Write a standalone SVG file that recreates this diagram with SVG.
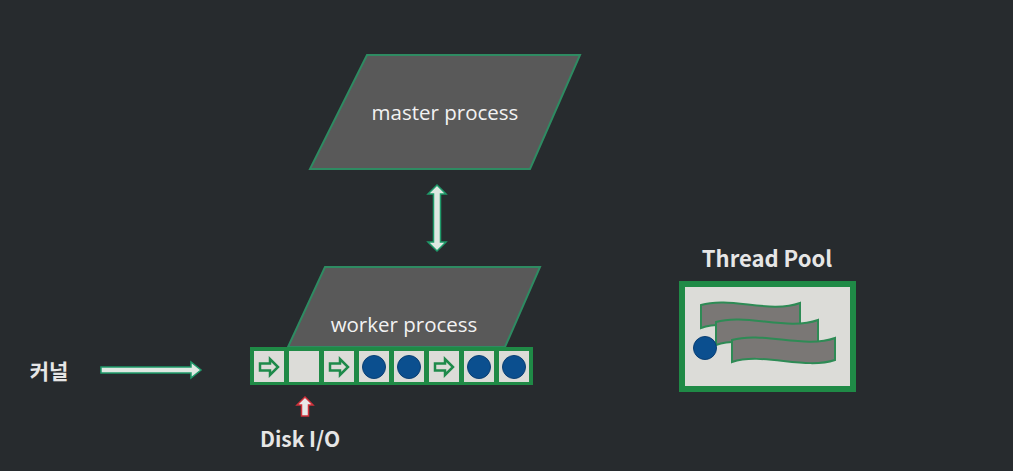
<svg xmlns="http://www.w3.org/2000/svg" width="1013" height="471" viewBox="0 0 1013 471">
<defs>
<style>
.bg{fill:#272b2e}
.para{fill:#595959;stroke:#2e8b62;stroke-width:2}
.lbl{font-family:"Open Sans","Noto Sans",sans-serif;font-size:20.5px;fill:#f2f2f2;text-anchor:middle}
.bold{font-family:"Noto Sans CJK KR","Noto Sans",sans-serif;font-weight:bold;fill:#e6e6e6;text-anchor:middle}
.cell{fill:#dcdcd8}
.dot{fill:#0b4f8f;stroke:#0a3f73;stroke-width:1}
.qarrow{fill:none;stroke:#1e8a4a;stroke-width:2.5;stroke-linejoin:miter}
.band{fill:#7a7775;stroke:#2e8b55;stroke-width:2}
.conn{fill:#dfe8e2;stroke:#1f9a6a;stroke-width:1.5}
</style>
<symbol id="qa" viewBox="0 0 30 32">
<path class="qarrow" d="M6 12.5 H16 V8 L24 16 L16 24 V19.5 H6 Z"/>
</symbol>
</defs>
<rect class="bg" x="0" y="0" width="1013" height="471"/>

<g id="master">
<polygon class="para" points="367,55 580,55 530,169 310,169"/>
<text class="lbl" x="445" y="120">master process</text>
</g>

<g id="worker">
<polygon class="para" points="325,267 540,267 505,347 288,347"/>
<text class="lbl" x="404" y="332">worker process</text>
</g>

<g id="queue">
<rect x="250" y="347" width="283" height="38" fill="#1f8a46"/>
<rect class="cell" x="254" y="351" width="30" height="31"/>
<rect class="cell" x="289" y="351" width="30" height="31"/>
<rect class="cell" x="324" y="351" width="30" height="31"/>
<rect class="cell" x="359" y="351" width="30" height="31"/>
<rect class="cell" x="394" y="351" width="30" height="31"/>
<rect class="cell" x="429" y="351" width="30" height="31"/>
<rect class="cell" x="464" y="351" width="30" height="31"/>
<rect class="cell" x="499" y="351" width="30" height="31"/>
<use href="#qa" x="254" y="351" width="30" height="32"/>
<use href="#qa" x="324" y="351" width="30" height="32"/>
<use href="#qa" x="429" y="351" width="30" height="32"/>
<circle class="dot" cx="374" cy="367" r="11.5"/>
<circle class="dot" cx="409" cy="367" r="11.5"/>
<circle class="dot" cx="479" cy="367" r="11.5"/>
<circle class="dot" cx="514" cy="367" r="11.5"/>
</g>

<g id="kernel">
<text class="bold" x="49" y="379" font-size="21">커널</text>
</g>

<g id="disk">
<text class="bold" x="300" y="447" font-size="21">Disk I/O</text>
</g>

<g id="threadpool">
<text class="bold" x="767" y="267" font-size="22">Thread Pool</text>
<rect x="682" y="284" width="171" height="105" fill="#dcdcd8" stroke="#1f8a46" stroke-width="6"/>
<path class="band" d="M701,305 C730,296 770,314 800,303 L800,326 C770,336 730,318 701,328 Z"/>
<path class="band" d="M716,322 C745,313 788,331 818,320 L818,343 C788,353 745,335 716,345 Z"/>
<path class="band" d="M732,340 C762,331 805,349 835,338 L835,360 C805,370 762,352 732,362 Z"/>
<circle class="dot" cx="705" cy="348" r="11.5"/>
</g>

<g id="connectors">
<path class="conn" d="M437,185 L446,194 L440.5,194 L440.5,242 L446,242 L437,251 L428,242 L433.5,242 L433.5,194 L428,194 Z"/>
<path class="conn" d="M101,367 L191,367 L191,362 L201,370 L191,378 L191,373 L101,373 Z"/>
<path d="M305,397 L313,405 L308.5,405 L308.5,416 L301.5,416 L301.5,405 L297,405 Z" fill="#e8e8e8" stroke="#d0303a" stroke-width="1.5"/>
</g>
</svg>
